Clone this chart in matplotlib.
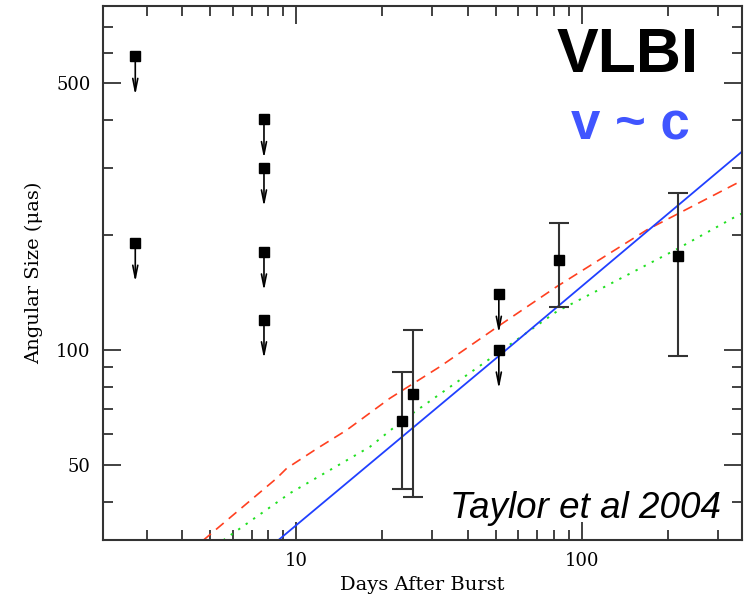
import numpy as np
import matplotlib
matplotlib.use("Agg")
import matplotlib.pyplot as plt
from matplotlib.ticker import FixedLocator, NullFormatter, FixedFormatter

# Upper limits (days, microarcsec)
lim_t = [2.74, 2.74, 7.73, 7.73, 7.73, 7.73, 51.3, 51.3]
lim_size = [588, 190.5, 401.6, 300, 180.7, 120, 140, 100]

# Measured sizes with error bars
det_t = [23.6, 25.6, 83.5, 216.8]
det_size = [65.2, 76.7, 172, 176.5]
det_lo = [43.1, 41.2, 129.5, 96.5]
det_hi = [87.3, 112.7, 214.5, 257]

# Model curves
red_t = [4.74, 8.56, 9.28, 11.8, 15.05, 21.3, 31.9, 51.8, 81.7, 168.9, 348.7, 364]
red_size = [31.7, 46.06, 48.9, 55.0, 61.6, 74.6, 90.3, 116.1, 146.3, 206, 273, 278]
green_t = [5.57, 9.53, 13.15, 18.16, 23.75, 51.8, 81.7, 115.9, 215, 348.7, 364]
green_size = [31.7, 42.1, 48.4, 55.7, 65.5, 98.9, 125.9, 144.1, 183.4, 224.1, 227.5]
blue_t = [8.67, 51.8, 364]
blue_size = [31.7, 96.9, 330.6]

fig = plt.figure(figsize=(7.44, 5.96), dpi=100)
ax = fig.add_axes([0.1384, 0.094, 0.8589, 0.896])
ax.set_xscale("log")
ax.set_yscale("log")
ax.set_xlim(2.112, 364)
ax.set_ylim(31.75, 795.7)

ax.plot(red_t, red_size, color="#ff4020", lw=1.2, dashes=(6, 4))
ax.plot(green_t, green_size, color="#20e020", lw=1.4, dashes=(1.2, 3.5))
ax.plot(blue_t, blue_size, color="#2040ff", lw=1.3)

# error bars + points
yerr = [np.subtract(det_size, det_lo), np.subtract(det_hi, det_size)]
ax.errorbar(det_t, det_size, yerr=yerr, fmt="none", ecolor="#333333",
            elinewidth=1.5, capsize=7, capthick=1.5)
ax.plot(det_t, det_size, "s", color="black", ms=6.5)

# upper limits with arrows
ax.plot(lim_t, lim_size, "s", color="black", ms=6.5)
for t, s in zip(lim_t, lim_size):
    ax.annotate("", xy=(t, s * 0.79), xytext=(t, s),
                arrowprops=dict(arrowstyle="->,head_length=0.9,head_width=0.18",
                                color="black", lw=1.2, shrinkA=0, shrinkB=0))

# ticks, PGPLOT style
serif = "DejaVu Serif"
ax.xaxis.set_major_locator(FixedLocator([10, 100]))
ax.xaxis.set_minor_locator(FixedLocator([3, 4, 5, 6, 7, 8, 9, 20, 30, 40, 50, 60, 70, 80, 90, 200, 300]))
ax.xaxis.set_major_formatter(FixedFormatter(["10", "100"]))
ax.xaxis.set_minor_formatter(NullFormatter())
ax.yaxis.set_major_locator(FixedLocator([50, 100, 500]))
ax.yaxis.set_minor_locator(FixedLocator([40, 60, 70, 80, 90, 200, 300, 400, 600, 700, 800]))
ax.yaxis.set_major_formatter(FixedFormatter(["50", "100", "500"]))
ax.yaxis.set_minor_formatter(NullFormatter())
ax.tick_params(which="both", direction="in", top=True, right=True, color="#333333", width=1.3)
ax.tick_params(which="major", length=13, labelsize=13, pad=9)
ax.tick_params(which="minor", length=7)
for lab in ax.get_xticklabels() + ax.get_yticklabels():
    lab.set_family(serif)
for sp in ax.spines.values():
    sp.set_color("#333333")
    sp.set_linewidth(1.5)

ax.set_xlabel("Days After Burst", family=serif, fontsize=14, labelpad=4)
ax.set_ylabel("Angular Size (\u03bcas)", family=serif, fontsize=14, labelpad=9)

# annotations
fig.text(627.5 / 744, 1 - 56 / 596, "VLBI", family="Liberation Sans", weight="bold",
         fontsize=45, ha="center", va="center", color="black")
fig.text(630.5 / 744, 1 - 125 / 596, "v ~ c", family="Liberation Sans", weight="bold",
         fontsize=38, ha="center", va="center", color="#4055ff")
fig.text(585 / 744, 1 - 518 / 596, "Taylor et al 2004", family="Liberation Sans",
         style="italic", fontsize=26.5, ha="center", va="baseline", color="black")

fig.savefig("out.png", dpi=100)
